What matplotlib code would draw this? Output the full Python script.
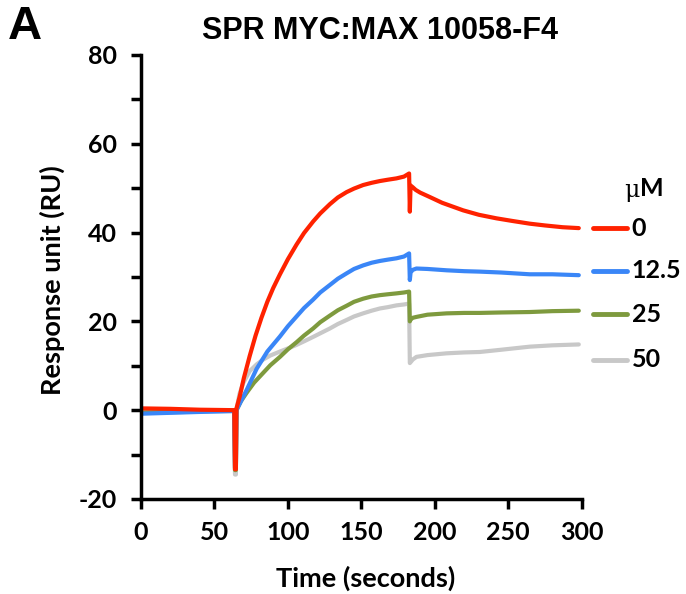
import matplotlib
matplotlib.use("Agg")
import matplotlib.pyplot as plt

plt.rcParams['axes.unicode_minus'] = False

# SPR sensorgram, MYC:MAX with 10058-F4
conc_labels = ['0', '12.5', '25', '50']
colors = ['#FF2200', '#3A86F7', '#7E9A3E', '#C8C8C8']

t_red = [0, 20, 40, 63.5, 64, 64.6, 65, 67.3, 70, 74, 78, 82, 86, 90, 94.6, 100, 105.9, 111, 117.2,
         122, 128.6, 134, 139.9, 145, 151.2, 157, 162.6, 168, 173.9, 179, 182.5, 183, 183.5,
         185, 187, 190, 196.6, 205, 219.3, 230, 242, 253, 264.6, 275, 287, 298]
y_red = [0.4, 0.3, 0.1, 0.0, -13.3, -13.3, 0.4, 3.2, 7.2, 12.2, 16.8, 20.8, 24.4, 27.5, 30.6, 34.0,
         37.3, 39.9, 42.5, 44.3, 46.4, 47.9, 49.1, 49.9, 50.7, 51.2, 51.6, 51.9, 52.2, 52.6, 53.3,
         44.7, 50.6, 50.2, 49.6, 49.0, 48.0, 46.7, 45.0, 44.0, 43.2, 42.6, 42.0, 41.6, 41.2, 41.0]

t_blue = [0, 20, 40, 63.5, 64, 64.6, 65, 67.3, 72, 78.7, 86, 94.6, 100, 105.9, 111, 117.2, 122,
          128.6, 134, 139.9, 145, 151.2, 157, 162.6, 168, 173.9, 179, 182.5, 183, 183.5, 185,
          187.5, 195, 208, 220, 230.6, 245, 264.6, 280, 298]
y_blue = [-0.8, -0.6, -0.4, -0.2, -13.0, -13.0, 0.0, 1.5, 4.6, 9.3, 13.2, 16.6, 18.9, 21.1, 23.0,
          24.9, 26.5, 28.2, 29.6, 30.8, 31.8, 32.6, 33.2, 33.6, 33.9, 34.2, 34.6, 35.3, 29.3, 31.0,
          31.6, 31.9, 31.8, 31.5, 31.3, 31.2, 31.0, 30.6, 30.6, 30.4]

t_green = [0, 20, 40, 63.5, 64, 64.6, 65, 68, 71.9, 77, 83.2, 88, 94.6, 100, 105.9, 111, 117.2,
           122, 128.6, 134, 139.9, 145, 151.2, 157, 162.6, 168, 173.9, 179, 182.5, 183, 183.5,
           185, 187.5, 195, 208, 220, 230.6, 245, 264.6, 280, 298]
y_green = [-0.5, -0.4, -0.2, -0.1, -13.5, -13.5, 0.0, 2.0, 3.9, 6.2, 8.4, 10.1, 12.0, 13.7, 15.3,
           16.8, 18.4, 19.8, 21.3, 22.5, 23.5, 24.4, 25.1, 25.6, 25.9, 26.1, 26.3, 26.5, 26.7,
           20.0, 20.4, 20.8, 21.0, 21.5, 21.8, 21.9, 21.9, 22.0, 22.1, 22.3, 22.4]

t_gray = [0, 20, 40, 63.5, 64, 64.6, 65, 67, 69.6, 74, 78.7, 83.2, 88, 94.6, 100, 105.9, 111,
          117.2, 122, 128.6, 134, 139.9, 145, 151.2, 157, 162.6, 168, 173.9, 179, 182.5, 183,
          183.5, 185, 187.5, 195, 208, 220, 230.6, 245, 264.6, 280, 298]
y_gray = [-0.6, -0.5, -0.3, -0.2, -14.5, -14.5, 0.0, 3.6, 6.1, 8.8, 10.3, 11.4, 12.3, 13.2, 13.9,
          14.7, 15.5, 16.5, 17.3, 18.4, 19.4, 20.3, 21.1, 21.8, 22.4, 22.9, 23.2, 23.6, 23.8, 24.0,
          10.6, 10.8, 11.4, 12.0, 12.4, 12.8, 13.0, 13.1, 13.6, 14.3, 14.6, 14.8]

series = [(t_red, y_red), (t_blue, y_blue), (t_green, y_green), (t_gray, y_gray)]
legend_y = [41, 31.4, 21.6, 11.4]

tick_font = 'Lato'

fig = plt.figure(figsize=(6.86, 5.94), dpi=100)
ax = fig.add_axes([0.2055, 0.16, 0.6425, 0.7475])

# draw grey first so red sits on top
for (t, y), c in reversed(list(zip(series, colors))):
    ax.plot(t, y, color=c, linewidth=3, solid_joinstyle='round', solid_capstyle='round')

ax.set_xlim(0, 300)
ax.set_ylim(-20, 80)
ax.set_xticks(range(0, 301, 50))
ax.set_yticks(range(-20, 81, 20))
ax.set_yticks(range(-10, 80, 20), minor=True)
ax.tick_params(axis='both', which='both', direction='out', width=2.5, length=7,
               labelsize=18)
ax.tick_params(axis='y', pad=10)
ax.tick_params(axis='x', pad=9)
for lab in ax.get_xticklabels() + ax.get_yticklabels():
    lab.set_fontfamily(tick_font)
    lab.set_fontweight('bold')

for side in ['top', 'right']:
    ax.spines[side].set_visible(False)
for side in ['left', 'bottom']:
    ax.spines[side].set_linewidth(2.5)

ax.set_xlabel('Time (seconds)', fontsize=19.5, fontweight='bold', family=tick_font)
ax.xaxis.set_label_coords(0.51, -0.178)
ax.xaxis.label.set_verticalalignment('center')
ax.set_ylabel('Response unit (RU)', fontsize=19.5, fontweight='bold', family=tick_font)
ax.yaxis.set_label_coords(-0.202, 0.493)
ax.yaxis.label.set_verticalalignment('center')

fig.text(0.554, 0.948, 'SPR MYC:MAX 10058-F4', fontsize=22, fontweight='bold',
         family='Liberation Sans', ha='center', va='center')
fig.text(0.012, 0.955, 'A', fontsize=34, fontweight='bold', family='Liberation Sans',
         ha='left', va='center')

# concentration key to the right of the traces
for yv, c, lab in zip(legend_y, colors, conc_labels):
    ax.plot([307.5, 330.5], [yv, yv], color=c, linewidth=3.5, solid_capstyle='round',
            clip_on=False)
    ax.text(334, yv, lab, fontsize=18, fontweight='bold', family=tick_font,
            ha='left', va='center', clip_on=False)
ax.text(339.5, 49.5, 'μ', fontsize=17, family='DejaVu Serif', ha='right', va='center')
ax.text(340, 50, 'M', fontsize=18, fontweight='bold', family=tick_font, ha='left', va='center')

fig.savefig('out.png', dpi=100)
